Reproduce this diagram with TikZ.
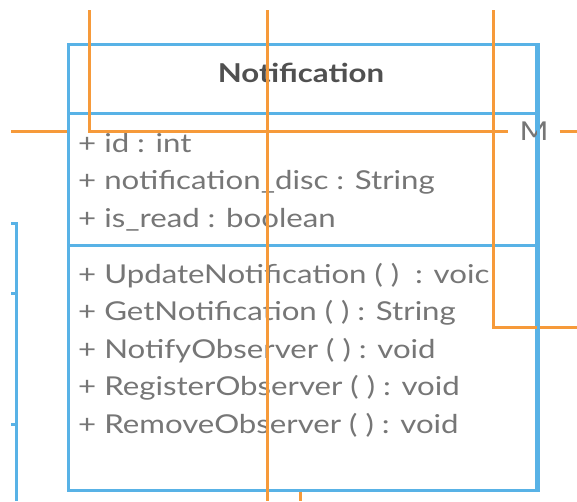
\documentclass[tikz,border=0pt]{standalone}
\usepackage{fontspec}
\setmainfont[FakeStretch=1.2]{Lato}
\definecolor{umlblue}{RGB}{88,178,230}
\definecolor{umlorange}{RGB}{246,154,58}
\definecolor{txtgray}{RGB}{118,118,118}
\definecolor{titlegray}{RGB}{80,80,80}
\begin{document}
\begin{tikzpicture}[x=1pt,y=-1pt,
  bline/.style={draw=umlblue,line width=3pt},
  oline/.style={draw=umlorange,line width=3pt},
  member/.style={anchor=base west,inner sep=0pt,text=txtgray,font=\fontsize{26}{30}\selectfont},
  title/.style={anchor=base,inner sep=0pt,text=titlegray,font=\fontsize{26}{30}\selectfont\bfseries}]
\useasboundingbox (0,0) rectangle (577,501);
% left blue connector
\coordinate (b0) at (11,223);
\coordinate (b1) at (16,501);
\coordinate (t1a) at (11,293); \coordinate (t1b) at (16,293);
\coordinate (t2a) at (11,424); \coordinate (t2b) at (16,424);
\draw[bline] (b0) -| (b1);
\draw[bline] (t1a) -- (t1b);
\draw[bline] (t2a) -- (t2b);
% bottom orange stub
\coordinate (s0) at (300,489); \coordinate (s1) at (300,501);
\draw[oline] (s0) -- (s1);
% class box
\node[draw=umlblue,line width=3pt,fill=white,minimum width=468pt,minimum height=446pt,inner sep=0pt,anchor=north west] (box) at (67,43) {};
\coordinate (h1l) at (67,113); \coordinate (h1r) at (535,113);
\coordinate (h2l) at (67,245); \coordinate (h2r) at (535,245);
\draw[bline] (h1l) -- (h1r);
\draw[bline] (h2l) -- (h2r);
\node[title] (ttl) at (301,82) {Notification};
\node[member] (a1) at (78,152) {+ id : int};
\node[member] (a2) at (78,189.5) {+ notification\_disc : String};
\node[member] (a3) at (78,227) {+ is\_read : boolean};
\node[member] (m1) at (78,283) {+ UpdateNotification ( )\ \ : voic};
\node[member] (m2) at (78,320.5) {+ GetNotification ( ) : String};
\node[member] (m3) at (78,358) {+ NotifyObserver ( ) : void};
\node[member] (m4) at (78,395.5) {+ RegisterObserver ( ) : void};
\node[member] (m5) at (78,433) {+ RemoveObserver ( ) : void};
% orange connectors
\coordinate (o1s) at (89,10);
\coordinate (o1e) at (577,131);
\node[inner sep=0pt,minimum width=51pt,text=txtgray,font=\fontsize{26}{30}\selectfont] (M) at (534,131) {M};
\draw[oline] (o1s) |- (M.west);
\draw[oline] (M.east) -- (o1e);
\coordinate (o2s) at (11,131);
\draw[oline] (o2s) -- (box.west |- o2s);
\coordinate (o3s) at (267,10); \coordinate (o3e) at (267,501);
\draw[oline] (o3s) -- (o3e);
\coordinate (o4s) at (493,10); \coordinate (o4e) at (577,327);
\draw[oline] (o4s) |- (o4e);
% right edge of box over label
\draw[bline] (box.north east) -- (box.south east);
\end{tikzpicture}
\end{document}
